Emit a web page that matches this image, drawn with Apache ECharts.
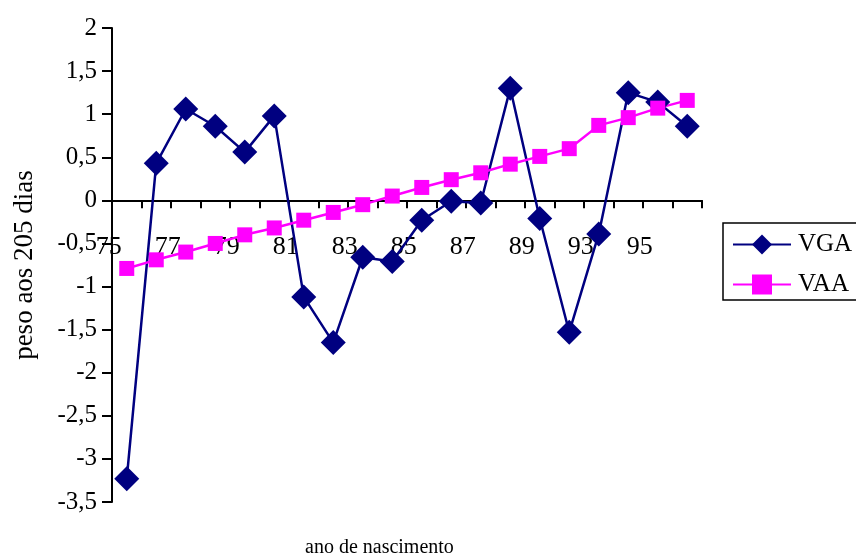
<!DOCTYPE html>
<html>
<head>
<meta charset="utf-8">
<script src="https://cdn.jsdelivr.net/npm/echarts@6/dist/echarts.min.js"></script>
<style>html,body{margin:0;padding:0;background:#fff;}#c{width:856px;height:557px;}</style>
</head>
<body>
<div id="c"></div>
<script>
var categories = ['75','76','77','78','79','80','81','82','83','84','85','86','87','88','89','91','93','94','95','96'];
var VGA = [-3.23, 0.43, 1.06, 0.86, 0.56, 0.98, -1.12, -1.65, -0.66, -0.71, -0.23, -0.01, -0.03, 1.30, -0.21, -1.53, -0.39, 1.25, 1.14, 0.86];
var VAA = [-0.79, -0.69, -0.60, -0.50, -0.40, -0.32, -0.23, -0.14, -0.05, 0.05, 0.15, 0.24, 0.32, 0.42, 0.51, 0.60, 0.87, 0.96, 1.07, 1.16];
var yTicks = [-3.5, 2, 0.5];

var font = '"Liberation Serif", "Times New Roman", serif';
var gridTop = 28, gridBottomY = 502;
var zeroOffset = (gridBottomY - gridTop) * (0 - yTicks[0]) / (yTicks[1] - yTicks[0]);
var chart = echarts.init(document.getElementById('c'));
chart.setOption({
  animation: false,
  backgroundColor: '#fff',
  textStyle: {fontFamily: font, color: '#000'},
  grid: {left: 112, right: 154, top: gridTop, bottom: 557 - gridBottomY},
  xAxis: {
    type: 'category',
    data: categories,
    boundaryGap: true,
    position: 'bottom',
    offset: -zeroOffset,
    z: 0,
    axisLine: {onZero: false, lineStyle: {color: '#000', width: 2}},
    axisTick: {show: true, alignWithLabel: false, length: 8, interval: 0, lineStyle: {color: '#000', width: 2}},
    axisLabel: {interval: 1, margin: 34, fontSize: 26, fontFamily: font, color: '#000', padding: [0, 36, 0, 0]},
    splitLine: {show: false}
  },
  yAxis: {
    type: 'value',
    min: yTicks[0], max: yTicks[1], interval: yTicks[2],
    axisLine: {show: true, onZero: false, lineStyle: {color: '#000', width: 2}},
    axisTick: {show: true, length: 10, lineStyle: {color: '#000', width: 2}},
    axisLabel: {margin: 15, fontSize: 25, fontFamily: font, color: '#000',
      formatter: function (v) { return String(v).replace('.', ','); }},
    splitLine: {show: false},
    name: 'peso aos 205 dias',
    nameLocation: 'middle',
    nameGap: 74,
    nameTextStyle: {fontSize: 27, fontFamily: font, color: '#000'}
  },
  legend: {
    orient: 'vertical',
    left: 723, top: 223,
    padding: [9, 30, 3, 9],
    borderColor: '#000', borderWidth: 1.5,
    itemWidth: 58, itemHeight: 25, itemGap: 15,
    textStyle: {fontSize: 25, fontFamily: font, color: '#000', padding: [0, 0, 0, 2]},
    data: ['VGA', 'VAA']
  },
  graphic: [{
    type: 'text', left: 305, top: 538,
    style: {text: 'ano de nascimento', font: '20px ' + font, fill: '#000'}
  }],
  series: [
    {name: 'VGA', type: 'line', data: VGA, symbol: 'diamond', symbolSize: 25, showAllSymbol: true, z: 3,
      lineStyle: {color: '#000080', width: 2.5}, itemStyle: {color: '#000080'}},
    {name: 'VAA', type: 'line', data: VAA, symbol: 'rect', symbolSize: 15, showAllSymbol: true, z: 3,
      lineStyle: {color: '#ff00ff', width: 2.5}, itemStyle: {color: '#ff00ff'}}
  ]
});
</script>
</body>
</html>
